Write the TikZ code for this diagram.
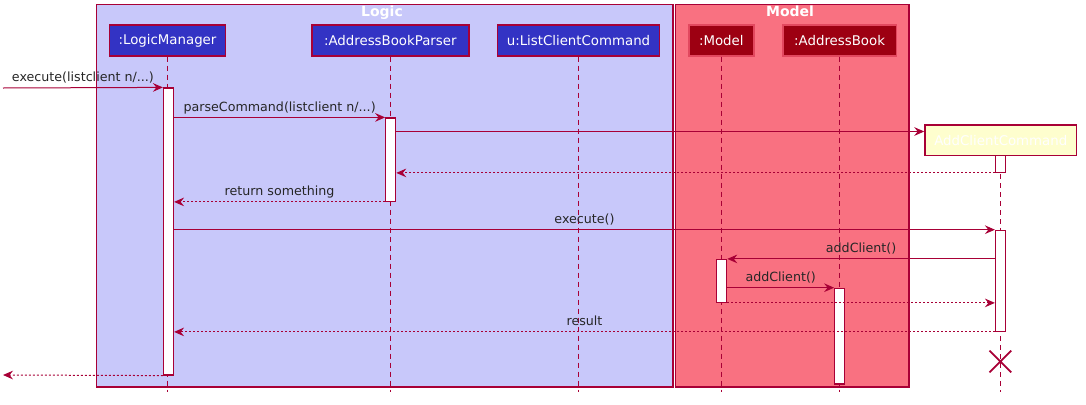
\documentclass[tikz,border=0pt]{standalone}
\usepackage{fontspec}
\setmainfont{DejaVu Sans}
\usetikzlibrary{arrows.meta,fit,shapes.misc}
\definecolor{umlred}{HTML}{A80036}
\definecolor{logicT1}{HTML}{C8C8FA}
\definecolor{logicC}{HTML}{3333C4}
\definecolor{modelT1}{HTML}{F97181}
\definecolor{modelC}{HTML}{9D0012}
\definecolor{modelBd}{HTML}{E2485F}
\definecolor{createC}{HTML}{FEFECE}
\tikzset{
  px/.style={x=0.75pt,y=-0.75pt},
  groupbox/.style={draw=umlred,line width=0.9pt,inner sep=0pt},
  grouptitle/.style={text=white,font=\bfseries\fontsize{10.5}{12}\selectfont,anchor=north,inner sep=0pt},
  part/.style={draw=umlred,line width=1.1pt,fill=logicC,text=white,inner sep=0pt,
    minimum height=23.25pt,font=\fontsize{10}{12}\selectfont},
  mpart/.style={part,draw=modelBd,fill=modelC},
  cpart/.style={part,fill=createC},
  life/.style={draw=umlred,line width=0.75pt,dash pattern=on 3.75pt off 3pt},
  act/.style={draw=umlred,line width=0.9pt,fill=white,inner sep=0pt},
  msg/.style={draw=umlred,line width=0.75pt,-{Stealth[length=7.5pt,width=6.5pt,inset=2.6pt]}},
  ret/.style={msg,dash pattern=on 1.6pt off 1.4pt},
  lbl/.style={text=black!85,font=\fontsize{9.5}{11}\selectfont,anchor=base,inner sep=0pt,yshift=4.5pt},
}
\begin{document}
\begin{tikzpicture}[px]
\useasboundingbox (0,0) rectangle (1086,404);
% group boxes
\node[groupbox,fill=logicT1,fit={(96.5,4.5) (673,387)}] (logic) {};
\node[groupbox,fill=modelT1,fit={(675.5,4.5) (909,387)}] (model) {};
\node[grouptitle] (logicT) at (382,5.5) {Logic};
\node[grouptitle] (modelT) at (790,5.5) {Model};
% participants
\node[part,minimum width=87pt] (lm) at (167.5,40.5) {:LogicManager};
\node[part,minimum width=117.75pt] (abp) at (390.3,40.5) {:AddressBookParser};
\node[part,minimum width=121.5pt] (lcc) at (578.5,40.5) {u:ListClientCommand};
\node[mpart,minimum width=48.75pt] (mdl) at (721.3,40.5) {:Model};
\node[mpart,minimum width=85.2pt] (ab) at (839.6,40.5) {:AddressBook};
\node[cpart,minimum width=113.75pt,minimum height=22.75pt] (acc) at (1000.8,140.2) {AddClientCommand};
% lifelines
\coordinate (yend) at (0,392);
\draw[life] (lm.south) -- (lm.south |- yend);
\draw[life] (abp.south) -- (abp.south |- yend);
\draw[life] (lcc.south) -- (lcc.south |- yend);
\draw[life] (mdl.south) -- (mdl.south |- yend);
\draw[life] (ab.south) -- (ab.south |- yend);
\draw[life] (acc.south) -- (acc.south |- yend);
% activations
\node[act,fit={(163.5,88) (173.5,375)}] (lmA) {};
\node[act,fit={(385.7,118) (395.7,201.3)}] (abpA) {};
\node[act,fit={(995.7,155.3) (1005.5,172.3)}] (accA1) {};
\node[act,fit={(995.5,230.3) (1005.5,331.3)}] (accA2) {};
\node[act,fit={(716.7,259.5) (726.7,302.3)}] (mA) {};
\node[act,fit={(834.7,288.3) (844.7,384)}] (abA) {};
% messages
\coordinate (in0) at (3,88);
\coordinate (out0) at (3,375);
\coordinate (ycreate) at (0,131.5);
\draw[msg] (in0) -- node[lbl] {execute(listclient n/...)} (lmA.north west);
\draw[msg] (lmA.east |- abpA.north) -- node[lbl] {parseCommand(listclient n/...)} (abpA.north west);
\draw[msg] (abpA.east |- ycreate) -- (acc.west |- ycreate);
\draw[ret] (accA1.south west) -- (abpA.east |- accA1.south);
\draw[ret] (abpA.south west) -- node[lbl] {return something} (lmA.east |- abpA.south);
\draw[msg] (lmA.east |- accA2.north) -- node[lbl] {execute()} (accA2.north west);
\draw[msg] (accA2.west |- mA.north) -- node[lbl] {addClient()} (mA.north east);
\draw[msg] (mA.east |- abA.north) -- node[lbl] {addClient()} (abA.north west);
\draw[ret] (mA.south east) -- (accA2.west |- mA.south);
\draw[ret] (accA2.south west) -- node[lbl] {result} (lmA.east |- accA2.south);
\draw[ret] (lmA.south west) -- (out0);
% destroy
\node[cross out,draw=umlred,line width=1.3pt,minimum size=15pt,inner sep=0pt] (kill) at (1000.3,361.5) {};
\end{tikzpicture}
\end{document}
